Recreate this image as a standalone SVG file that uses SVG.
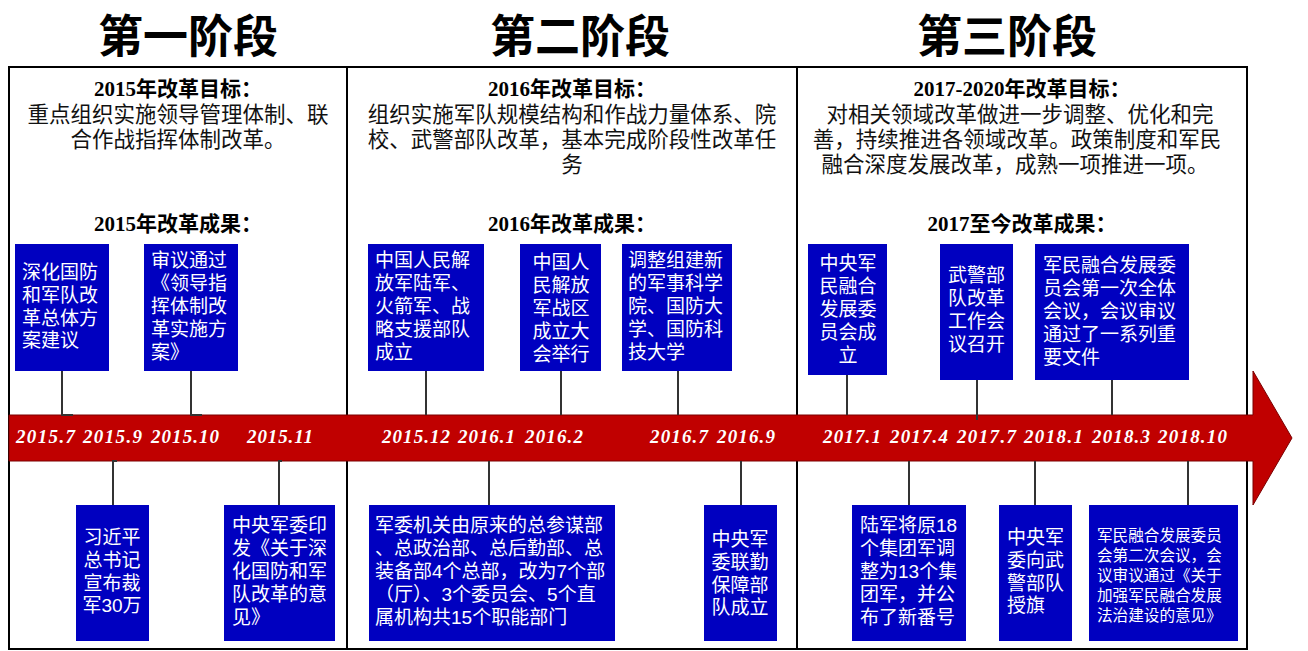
<svg xmlns="http://www.w3.org/2000/svg" width="1308" height="651" viewBox="0 0 1308 651">
<style>
.hdr{font-family:"Noto Sans CJK SC",sans-serif;font-weight:700;font-size:45px;fill:#000;text-anchor:middle}
.ttl{font-family:"Liberation Serif","Noto Sans CJK SC",serif;font-weight:700;font-size:21px;fill:#000;text-anchor:middle}
.body{font-family:"Liberation Sans","Noto Sans CJK SC",sans-serif;font-size:21.5px;fill:#111;text-anchor:middle}
.date{font-family:"Liberation Serif",serif;font-weight:700;font-style:italic;font-size:19px;fill:#fff}
.box{fill:#0000C0}
.bt{font-family:"Liberation Sans","Noto Sans CJK SC",sans-serif;font-size:19px;fill:#fff}
.bs{font-family:"Liberation Sans","Noto Sans CJK SC",sans-serif;font-size:15.6px;fill:#fff}
.mid{text-anchor:middle}
.frame{fill:none;stroke:#000;stroke-width:2}
.con{fill:none;stroke:#333;stroke-width:2}
</style>
<rect width="1308" height="651" fill="#fff"/>
<g id="headers">
<text class="hdr" x="188" y="53">第一阶段</text>
<text class="hdr" x="580" y="53">第二阶段</text>
<text class="hdr" x="1007" y="53">第三阶段</text>
</g>
<g id="frame">
<rect class="frame" x="9" y="67" width="1238" height="582"/>
<line class="frame" x1="347" y1="67" x2="347" y2="649"/>
<line class="frame" x1="797" y1="67" x2="797" y2="649"/>
</g>
<g id="stage1-text">
<text class="ttl" x="178" y="96">2015年改革目标：</text>
<text class="body"><tspan x="178" y="122">重点组织实施领导管理体制、联</tspan><tspan x="178" y="147">合作战指挥体制改革。</tspan></text>
<text class="ttl" x="178" y="231">2015年改革成果：</text>
</g>
<g id="stage2-text">
<text class="ttl" x="572" y="96">2016年改革目标：</text>
<text class="body"><tspan x="572" y="122">组织实施军队规模结构和作战力量体系、院</tspan><tspan x="572" y="147">校、武警部队改革，基本完成阶段性改革任</tspan><tspan x="572" y="172">务</tspan></text>
<text class="ttl" x="572" y="231">2016年改革成果：</text>
</g>
<g id="stage3-text">
<text class="ttl" x="1022" y="96">2017-2020年改革目标：</text>
<text class="body"><tspan x="1020" y="122">对相关领域改革做进一步调整、优化和完</tspan><tspan x="1017" y="147">善，持续推进各领域改革。政策制度和军民</tspan><tspan x="1015" y="172">融合深度发展改革，成熟一项推进一项。</tspan></text>
<text class="ttl" x="1022" y="231">2017至今改革成果：</text>
</g>
<g id="timeline">
<polygon points="9,415 1253,415 1253,371 1292,438 1253,505 1253,461 9,461" fill="#C00000" stroke="#7a0000" stroke-width="1"/>
<text class="date" x="16" y="443" textLength="59" lengthAdjust="spacing">2015.7</text>
<text class="date" x="83" y="443" textLength="59" lengthAdjust="spacing">2015.9</text>
<text class="date" x="151" y="443" textLength="68" lengthAdjust="spacing">2015.10</text>
<text class="date" x="247" y="443" textLength="66" lengthAdjust="spacing">2015.11</text>
<text class="date" x="382" y="443" textLength="68" lengthAdjust="spacing">2015.12</text>
<text class="date" x="458" y="443" textLength="57" lengthAdjust="spacing">2016.1</text>
<text class="date" x="525" y="443" textLength="58" lengthAdjust="spacing">2016.2</text>
<text class="date" x="650" y="443" textLength="58" lengthAdjust="spacing">2016.7</text>
<text class="date" x="717" y="443" textLength="58" lengthAdjust="spacing">2016.9</text>
<text class="date" x="823" y="443" textLength="58" lengthAdjust="spacing">2017.1</text>
<text class="date" x="890" y="443" textLength="58" lengthAdjust="spacing">2017.4</text>
<text class="date" x="957" y="443" textLength="59" lengthAdjust="spacing">2017.7</text>
<text class="date" x="1024" y="443" textLength="59" lengthAdjust="spacing">2018.1</text>
<text class="date" x="1092" y="443" textLength="58" lengthAdjust="spacing">2018.3</text>
<text class="date" x="1158" y="443" textLength="69" lengthAdjust="spacing">2018.10</text>
</g>
<g id="connectors">
<path class="con" d="M62,371V415H73"/>
<path class="con" d="M191,371V415H202"/>
<path class="con" d="M426,371V415"/>
<path class="con" d="M561,371V415"/>
<path class="con" d="M678,371V415"/>
<path class="con" d="M847,375V415"/>
<path class="con" d="M977,380V420"/>
<path class="con" d="M1112,380V415"/>
<path class="con" d="M117,461H113V505"/>
<path class="con" d="M282,461H279V505"/>
<path class="con" d="M489,461V505"/>
<path class="con" d="M741,461V505"/>
<path class="con" d="M909,461V505"/>
<path class="con" d="M1035,461V505"/>
<path class="con" d="M1188,461V505"/>
</g>
<g id="n1">
<rect class="box" x="15" y="244" width="94" height="127"/>
<text class="bt"><tspan x="22" y="279">深化国防</tspan><tspan x="22" y="302">和军队改</tspan><tspan x="22" y="325">革总体方</tspan><tspan x="22" y="347">案建议</tspan></text>
</g>
<g id="n2">
<rect class="box" x="144" y="244" width="94" height="127"/>
<text class="bt"><tspan x="151" y="267">审议通过</tspan><tspan x="151" y="290">《领导指</tspan><tspan x="151" y="313">挥体制改</tspan><tspan x="151" y="336">革实施方</tspan><tspan x="151" y="359">案》</tspan></text>
</g>
<g id="n3">
<rect class="box" x="368" y="244" width="116" height="127"/>
<text class="bt"><tspan x="375" y="267">中国人民解</tspan><tspan x="375" y="290">放军陆军、</tspan><tspan x="375" y="313">火箭军、战</tspan><tspan x="375" y="336">略支援部队</tspan><tspan x="375" y="359">成立</tspan></text>
</g>
<g id="n4">
<rect class="box" x="520" y="244" width="81" height="127"/>
<text class="bt mid"><tspan x="561" y="269">中国人</tspan><tspan x="561" y="292">民解放</tspan><tspan x="561" y="315">军战区</tspan><tspan x="561" y="338">成立大</tspan><tspan x="561" y="361">会举行</tspan></text>
</g>
<g id="n5">
<rect class="box" x="622" y="244" width="110" height="127"/>
<text class="bt"><tspan x="628" y="267">调整组建新</tspan><tspan x="628" y="290">的军事科学</tspan><tspan x="628" y="313">院、国防大</tspan><tspan x="628" y="336">学、国防科</tspan><tspan x="628" y="359">技大学</tspan></text>
</g>
<g id="n6">
<rect class="box" x="808" y="244" width="79" height="131"/>
<text class="bt mid"><tspan x="848" y="270">中央军</tspan><tspan x="848" y="293">民融合</tspan><tspan x="848" y="316">发展委</tspan><tspan x="848" y="339">员会成</tspan><tspan x="848" y="362">立</tspan></text>
</g>
<g id="n7">
<rect class="box" x="940" y="244" width="73" height="136"/>
<text class="bt"><tspan x="948" y="282">武警部</tspan><tspan x="948" y="305">队改革</tspan><tspan x="948" y="328">工作会</tspan><tspan x="948" y="351">议召开</tspan></text>
</g>
<g id="n8">
<rect class="box" x="1035" y="244" width="154" height="136"/>
<text class="bt"><tspan x="1043" y="272">军民融合发展委</tspan><tspan x="1043" y="295">员会第一次全体</tspan><tspan x="1043" y="318">会议，会议审议</tspan><tspan x="1043" y="341">通过了一系列重</tspan><tspan x="1043" y="364">要文件</tspan></text>
</g>
<g id="n9">
<rect class="box" x="76" y="505" width="73" height="136"/>
<text class="bt mid"><tspan x="112" y="544">习近平</tspan><tspan x="112" y="567">总书记</tspan><tspan x="112" y="590">宣布裁</tspan><tspan x="112" y="612">军30万</tspan></text>
</g>
<g id="n10">
<rect class="box" x="224" y="505" width="111" height="136"/>
<text class="bt"><tspan x="232" y="532">中央军委印</tspan><tspan x="232" y="555">发《关于深</tspan><tspan x="232" y="578">化国防和军</tspan><tspan x="232" y="601">队改革的意</tspan><tspan x="232" y="624">见》</tspan></text>
</g>
<g id="n11">
<rect class="box" x="369" y="505" width="246" height="136"/>
<text class="bt"><tspan x="375" y="532">军委机关由原来的总参谋部</tspan><tspan x="375" y="555">、总政治部、总后勤部、总</tspan><tspan x="375" y="578">装备部4个总部，改为7个部</tspan><tspan x="375" y="601">（厅）、3个委员会、5个直</tspan><tspan x="375" y="624">属机构共15个职能部门</tspan></text>
</g>
<g id="n12">
<rect class="box" x="704" y="505" width="73" height="136"/>
<text class="bt mid"><tspan x="740" y="546">中央军</tspan><tspan x="740" y="569">委联勤</tspan><tspan x="740" y="592">保障部</tspan><tspan x="740" y="614">队成立</tspan></text>
</g>
<g id="n13">
<rect class="box" x="852" y="505" width="114" height="136"/>
<text class="bt"><tspan x="860" y="532">陆军将原18</tspan><tspan x="860" y="555">个集团军调</tspan><tspan x="860" y="578">整为13个集</tspan><tspan x="860" y="601">团军，并公</tspan><tspan x="860" y="624">布了新番号</tspan></text>
</g>
<g id="n14">
<rect class="box" x="999" y="505" width="73" height="136"/>
<text class="bt"><tspan x="1007" y="544">中央军</tspan><tspan x="1007" y="567">委向武</tspan><tspan x="1007" y="590">警部队</tspan><tspan x="1007" y="612">授旗</tspan></text>
</g>
<g id="n15">
<rect class="box" x="1089" y="505" width="149" height="136"/>
<text class="bs"><tspan x="1097" y="541">军民融合发展委员</tspan><tspan x="1097" y="561">会第二次会议，会</tspan><tspan x="1097" y="581">议审议通过《关于</tspan><tspan x="1097" y="601">加强军民融合发展</tspan><tspan x="1097" y="621">法治建设的意见》</tspan></text>
</g>
</svg>
